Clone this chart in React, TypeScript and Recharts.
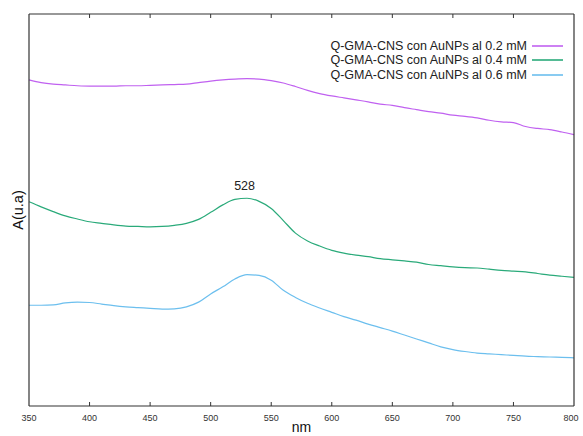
import { LineChart, Line, XAxis, YAxis, Legend, ReferenceDot } from "recharts";

const FONT = "'Liberation Sans', Arial, Helvetica, sans-serif";
const INK = "#333";

// wavelength (nm), sampled every 10 nm
const wavelengths = [
  350, 360, 370, 380, 390, 400, 410, 420, 430, 440, 450, 460, 470, 480, 490, 500,
  510, 520, 530, 540, 550, 560, 570, 580, 590, 600, 610, 620, 630, 640, 650, 660,
  670, 680, 690, 700, 710, 720, 730, 740, 750, 760, 770, 780, 790, 800,
];

// absorbance (arbitrary units)
const abs02 = [
  0.832, 0.825, 0.821, 0.819, 0.817, 0.816, 0.816, 0.816, 0.817, 0.817, 0.818, 0.819,
  0.82, 0.821, 0.825, 0.829, 0.832, 0.834, 0.835, 0.834, 0.83, 0.824, 0.815, 0.805,
  0.797, 0.791, 0.786, 0.781, 0.776, 0.77, 0.767, 0.761, 0.756, 0.751, 0.747, 0.742,
  0.739, 0.735, 0.729, 0.725, 0.723, 0.713, 0.708, 0.705, 0.699, 0.692,
];
const abs04 = [
  0.521, 0.508, 0.496, 0.485, 0.477, 0.47, 0.466, 0.462, 0.459, 0.458, 0.457, 0.458,
  0.461, 0.466, 0.476, 0.494, 0.513, 0.527, 0.53, 0.522, 0.504, 0.473, 0.441, 0.421,
  0.408, 0.397, 0.39, 0.385, 0.381, 0.376, 0.373, 0.37, 0.367, 0.361, 0.358, 0.355,
  0.353, 0.352, 0.349, 0.346, 0.344, 0.342, 0.338, 0.334, 0.331, 0.328,
];
const abs06 = [
  0.257, 0.257, 0.258, 0.263, 0.265, 0.264, 0.26, 0.256, 0.253, 0.251, 0.249, 0.247,
  0.248, 0.253, 0.265, 0.286, 0.304, 0.324, 0.335, 0.333, 0.321, 0.295, 0.277, 0.262,
  0.25, 0.239, 0.228, 0.219, 0.209, 0.2, 0.191, 0.181, 0.171, 0.161, 0.151, 0.144,
  0.139, 0.135, 0.133, 0.131, 0.129, 0.127, 0.126, 0.125, 0.124, 0.123,
];

const xTicks = [350, 400, 450, 500, 550, 600, 650, 700, 750, 800];

const peakNm = 528;
const peakAbs = 0.53;

const series = [
  { key: "a02", name: "Q-GMA-CNS con AuNPs al 0.2 mM", color: "#c061f0" },
  { key: "a04", name: "Q-GMA-CNS con AuNPs al 0.4 mM", color: "#2aaa7a" },
  { key: "a06", name: "Q-GMA-CNS con AuNPs al 0.6 mM", color: "#6cbfee" },
];

const data = wavelengths.map((nm, i) => ({
  nm,
  a02: abs02[i],
  a04: abs04[i],
  a06: abs06[i],
}));

const isEdge = (v: number) => v === xTicks[0] || v === xTicks[xTicks.length - 1];

function BottomTick({ x, y, payload }: any) {
  return (
    <g>
      {!isEdge(payload.value) && (
        <line x1={x} x2={x} y1={y} y2={y - 4} stroke={INK} strokeWidth={1} />
      )}
      <text x={x} y={y + 15} textAnchor="middle" fontSize={9} fill={INK} fontFamily={FONT}>
        {payload.value}
      </text>
    </g>
  );
}

function TopTick({ x, y, payload }: any) {
  if (isEdge(payload.value)) return <g />;
  return <line x1={x} x2={x} y1={y} y2={y + 4} stroke={INK} strokeWidth={1} />;
}

function LegendBox() {
  return (
    <div style={{ fontFamily: FONT, fontSize: 12.5, color: "#222" }}>
      {series.map((s) => (
        <div
          key={s.key}
          style={{
            display: "flex",
            justifyContent: "flex-end",
            alignItems: "center",
            height: 14.5,
            paddingRight: 20,
          }}
        >
          <span>{s.name}</span>
          <svg width={31} height={6} style={{ marginLeft: 5 }}>
            <line x1={0} x2={31} y1={3} y2={3} stroke={s.color} strokeWidth={1.6} />
          </svg>
        </div>
      ))}
    </div>
  );
}

const frame = { stroke: INK, strokeWidth: 1.2 };

export default function App() {
  return (
    <div style={{ position: "absolute", left: 0, top: 0, background: "#fff" }}>
      <LineChart
        width={583}
        height={436}
        data={data}
        margin={{ top: 13, right: 8, left: 28, bottom: 0 }}
      >
        <XAxis
          dataKey="nm"
          type="number"
          domain={[350, 800]}
          ticks={xTicks}
          height={30}
          tickSize={0}
          tickMargin={0}
          tickLine={false}
          axisLine={frame}
          tick={<BottomTick />}
          label={{
            content: ({ viewBox }: any) => (
              <text
                x={viewBox.x + viewBox.width / 2}
                y={viewBox.y + 26}
                textAnchor="middle"
                fontSize={14}
                fill="#111"
                fontFamily={FONT}
              >
                nm
              </text>
            ),
          }}
        />
        <XAxis
          xAxisId="top"
          dataKey="nm"
          type="number"
          orientation="top"
          domain={[350, 800]}
          ticks={xTicks}
          height={1}
          tickSize={0}
          tickMargin={0}
          tickLine={false}
          axisLine={frame}
          tick={<TopTick />}
        />
        <YAxis
          domain={[0, 1]}
          width={1}
          tick={false}
          tickLine={false}
          axisLine={frame}
          label={{
            content: ({ viewBox }: any) => {
              const cx = viewBox.x - 10.5;
              const cy = viewBox.y + viewBox.height / 2;
              return (
                <text
                  x={cx}
                  y={cy}
                  transform={`rotate(-90, ${cx}, ${cy})`}
                  textAnchor="middle"
                  dominantBaseline="central"
                  fontSize={14.5}
                  fill="#111"
                  fontFamily={FONT}
                >
                  A(u.a)
                </text>
              );
            },
          }}
        />
        <YAxis
          yAxisId="right"
          orientation="right"
          domain={[0, 1]}
          width={1}
          tick={false}
          tickLine={false}
          axisLine={frame}
        />
        <Legend
          layout="vertical"
          align="center"
          verticalAlign="middle"
          wrapperStyle={{ left: 0, top: 38.5, width: 583 }}
          content={() => <LegendBox />}
        />
        {series.map((s) => (
          <Line
            key={s.key}
            dataKey={s.key}
            name={s.name}
            type="monotone"
            stroke={s.color}
            strokeWidth={1.2}
            dot={false}
            activeDot={false}
            isAnimationActive={false}
          />
        ))}
        <ReferenceDot
          x={peakNm}
          y={peakAbs}
          r={0}
          fill="none"
          stroke="none"
          label={{
            value: String(peakNm),
            position: "top",
            offset: 8,
            fontSize: 12.5,
            fill: "#222",
            fontFamily: FONT,
          }}
        />
      </LineChart>
    </div>
  );
}
